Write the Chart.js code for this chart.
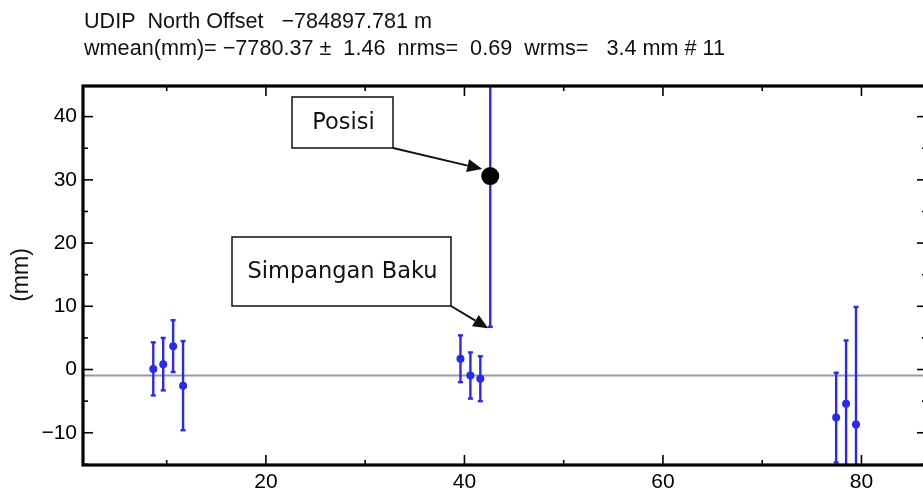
<!DOCTYPE html>
<html><head><meta charset="utf-8">
<script src="https://cdn.jsdelivr.net/npm/chart.js@4.4.0/dist/chart.umd.min.js"></script>
<style>html,body{margin:0;padding:0;background:#fff;}#wrap{width:923px;height:495px;position:relative;overflow:hidden;}</style>
</head><body><div id="wrap"><canvas id="c" width="923" height="495"></canvas></div>
<script>
// ---- text ----
const titleLine1 = "UDIP  North Offset   \u2212784897.781 m";
const titleLine2 = "wmean(mm)= \u22127780.37 \u00b1  1.46  nrms=  0.69  wrms=   3.4 mm # 11";
const yAxisLabel = "(mm)";
const labelPosition = "Posisi";
const labelSigma = "Simpangan Baku";

// ---- data (day, offset mm, sigma mm) ----
const days    = [8.65, 9.65, 10.65, 11.65, 39.6, 40.6, 41.6, 42.6, 77.45, 78.45, 79.45];
const offsets = [0.1, 0.85, 3.7, -2.55, 1.7, -0.95, -1.45, 30.6, -7.6, -5.4, -8.7];
const sigmas  = [4.2, 4.15, 4.1, 7.05, 3.7, 3.65, 3.55, 23.85, 7.1, 10.0, 18.6];
const meanOffset = -0.95;
const highlightIndex = 7;

// ---- axes ----
const xRange = [1.57, 86.2];
const yRange = [-15.1, 45];
const xTickValues = [20, 40, 60, 80];
const xMinorTicks = [10, 30, 50, 70];
const yTickValues = [-10, 0, 10, 20, 30, 40];
const yMinorTicks = [-15, -5, 5, 15, 25, 35];

const BLUE = '#2a2aee';
const GRAY = '#9a9a9a';
const FONT = '"Liberation Sans", Arial, Helvetica, sans-serif';

const errorBarPlugin = {
  id: 'errorBars',
  afterDatasetDraw(chart, args) {
    if (args.index !== 0) return;
    const {ctx, chartArea: a, scales: {x, y}} = chart;
    ctx.save();
    ctx.beginPath(); ctx.rect(a.left, a.top, a.right - a.left, a.bottom - a.top); ctx.clip();
    ctx.strokeStyle = BLUE; ctx.lineWidth = 2.4;
    days.forEach((d, i) => {
      const px = x.getPixelForValue(d);
      const yt = y.getPixelForValue(offsets[i] + sigmas[i]);
      const yb = y.getPixelForValue(offsets[i] - sigmas[i]);
      ctx.beginPath(); ctx.moveTo(px, yt); ctx.lineTo(px, yb); ctx.stroke();
      [yt, yb].forEach(yy => { ctx.beginPath(); ctx.moveTo(px - 2.5, yy); ctx.lineTo(px + 2.5, yy); ctx.stroke(); });
    });
    ctx.restore();
  }
};

function arrow(ctx, x1, y1, x2, y2) {
  const ang = Math.atan2(y2 - y1, x2 - x1), L = 15, W = 6.5;
  const bx = x2 - L * Math.cos(ang), by = y2 - L * Math.sin(ang);
  ctx.beginPath(); ctx.moveTo(x1, y1); ctx.lineTo(bx, by); ctx.stroke();
  ctx.beginPath();
  ctx.moveTo(x2, y2);
  ctx.lineTo(bx + W * Math.sin(ang), by - W * Math.cos(ang));
  ctx.lineTo(bx - W * Math.sin(ang), by + W * Math.cos(ang));
  ctx.closePath(); ctx.fill();
}

function fitText(ctx, text, x, y, width) {
  const w = ctx.measureText(text).width;
  ctx.save(); ctx.translate(x, y); ctx.scale(width / w, 1); ctx.fillText(text, 0, 0); ctx.restore();
}

const framePlugin = {
  id: 'frame',
  afterDraw(chart) {
    const {ctx, chartArea: a, scales: {x, y}} = chart;
    const L = a.left, R = a.right + 4, T = a.top + 1, B = a.bottom;
    ctx.save();
    ctx.strokeStyle = '#000'; ctx.lineWidth = 1.6;
    const yt = (v, len) => { const p = y.getPixelForValue(v);
      ctx.beginPath(); ctx.moveTo(L, p); ctx.lineTo(L + len, p); ctx.stroke();
      ctx.beginPath(); ctx.moveTo(R, p); ctx.lineTo(R - len, p); ctx.stroke(); };
    yTickValues.forEach(v => yt(v, 10)); yMinorTicks.forEach(v => yt(v, 5));
    const xt = (v, len) => { const p = x.getPixelForValue(v);
      ctx.beginPath(); ctx.moveTo(p, B); ctx.lineTo(p, B - len); ctx.stroke();
      ctx.beginPath(); ctx.moveTo(p, T); ctx.lineTo(p, T + len); ctx.stroke(); };
    xTickValues.forEach(v => xt(v, 10)); xMinorTicks.forEach(v => xt(v, 5));
    ctx.lineWidth = 3.2;
    ctx.strokeRect(L, T, R - L, B - T);
    ctx.restore();

    // title lines
    ctx.save();
    ctx.fillStyle = '#111';
    ctx.font = '22px ' + FONT;
    ctx.textBaseline = 'alphabetic';
    fitText(ctx, titleLine1, 84, 28, 348);
    fitText(ctx, titleLine2, 84, 55, 641);
    ctx.restore();

    // annotations
    const px = x.getPixelForValue(days[highlightIndex]);
    const py = y.getPixelForValue(offsets[highlightIndex]);
    const pyLow = y.getPixelForValue(offsets[highlightIndex] - sigmas[highlightIndex]);
    ctx.save();
    ctx.fillStyle = '#fff'; ctx.strokeStyle = '#111'; ctx.lineWidth = 1.5;
    const boxes = [
      {t: labelPosition, x0: 292, y0: 97, x1: 393, y1: 148},
      {t: labelSigma, x0: 232, y0: 237, x1: 451, y1: 306}
    ];
    boxes.forEach(b => {
      ctx.fillStyle = '#fff';
      ctx.fillRect(b.x0, b.y0, b.x1 - b.x0, b.y1 - b.y0);
      ctx.strokeRect(b.x0, b.y0, b.x1 - b.x0, b.y1 - b.y0);
      ctx.fillStyle = '#111';
      ctx.font = '22.5px "DejaVu Sans", Verdana, sans-serif';
      ctx.textAlign = 'center'; ctx.textBaseline = 'middle';
      ctx.fillText(b.t, (b.x0 + b.x1) / 2 + 1, (b.y0 + b.y1) / 2 + 1);
    });
    ctx.fillStyle = '#111'; ctx.strokeStyle = '#111'; ctx.lineWidth = 2;
    arrow(ctx, boxes[0].x1, boxes[0].y1, px - 8, py - 7);
    arrow(ctx, boxes[1].x1, boxes[1].y1, px - 2, pyLow + 1.5);
    ctx.restore();
  }
};

const minus = v => String(v).replace('-', '\u2212');

new Chart(document.getElementById('c'), {
  type: 'scatter',
  data: {
    datasets: [
      {
        type: 'line', label: 'wmean',
        data: [{x: xRange[0], y: meanOffset}, {x: xRange[1], y: meanOffset}],
        borderColor: GRAY, borderWidth: 2, pointRadius: 0, order: 2
      },
      {
        label: 'North',
        data: days.map((d, i) => ({x: d, y: offsets[i]})),
        pointRadius: c => c.dataIndex === highlightIndex ? 9 : 4,
        pointBackgroundColor: c => c.dataIndex === highlightIndex ? '#000' : BLUE,
        pointBorderColor: c => c.dataIndex === highlightIndex ? '#000' : BLUE,
        pointBorderWidth: 0, order: 1
      }
    ]
  },
  options: {
    responsive: false, animation: false, devicePixelRatio: 1,
    layout: {autoPadding: false, padding: {top: 85, right: 0, left: 0, bottom: 0}},
    plugins: {legend: {display: false}, tooltip: {enabled: false}, title: {display: false}},
    scales: {
      x: {
        type: 'linear', min: xRange[0], max: xRange[1],
        afterBuildTicks: s => { s.ticks = xTickValues.map(v => ({value: v})); },
        afterFit: s => { s.height = 30; s.paddingLeft = 0; s.paddingRight = 0; },
        grid: {display: false, drawTicks: false, tickLength: 0}, border: {display: false},
        ticks: {color: '#000', font: {family: FONT, size: 21}, padding: 5, maxRotation: 0, autoSkip: false, callback: minus}
      },
      y: {
        type: 'linear', min: yRange[0], max: yRange[1],
        afterBuildTicks: s => { s.ticks = yTickValues.map(v => ({value: v})); },
        afterFit: s => { s.width = 83; s.paddingTop = 0; s.paddingBottom = 0; },
        grid: {display: false, drawTicks: false, tickLength: 0}, border: {display: false},
        title: {display: true, text: yAxisLabel, color: '#111', font: {family: FONT, size: 23}, padding: {top: 8, bottom: 0}},
        ticks: {color: '#000', font: {family: FONT, size: 21}, padding: 6, autoSkip: false, callback: minus}
      }
    }
  },
  plugins: [errorBarPlugin, framePlugin]
});
</script></body></html>
